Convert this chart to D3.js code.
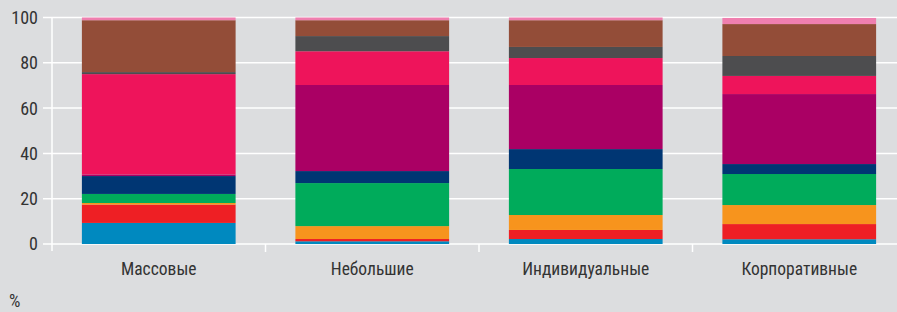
<!DOCTYPE html>
<html>
<head>
<meta charset="utf-8">
<script src="https://cdn.jsdelivr.net/npm/d3@7"></script>
<style>
  body { margin: 0; background: #dcdddf; }
  svg { display: block; }
  text { font-family: "Liberation Sans Narrow", "Roboto Condensed", "DejaVu Sans Condensed", sans-serif; fill: #333; }
</style>
</head>
<body>
<div id="chart"></div>
<script>
const width = 897;
const height = 312;

const categories = ["Массовые", "Небольшие", "Индивидуальные", "Корпоративные"];
const seriesKeys = ["s1", "s2", "s3", "s4", "s5", "s6", "s7", "s8", "s9", "s10"];
const seriesColors = ["#0089bf", "#ee1f24", "#f7941d", "#00ab5b", "#003673", "#aa0064", "#ee145b", "#4d4d4f", "#934d38", "#ef7faf"];
// values per category, bottom to top, %
const massovye = [9.3, 8.1, 0.7, 4.0, 7.9, 0.7, 44.3, 0.9, 22.9, 1.2];
const nebolshie = [1.2, 1.0, 5.7, 19.0, 5.3, 38.0, 14.9, 6.7, 7.0, 1.2];
const individualnye = [2.2, 4.0, 6.6, 20.3, 8.8, 28.3, 11.9, 4.9, 11.8, 1.2];
const korporativnye = [2.1, 6.7, 8.4, 13.7, 4.4, 30.9, 8.0, 8.8, 14.1, 2.7];
const yTicks = [0, 20, 40, 60, 80, 100];

const rows = [massovye, nebolshie, individualnye, korporativnye].map((vals, i) => {
    let r = { cat: categories[i] };
    seriesKeys.forEach((k, j) => r[k] = vals[j]);
    return r;
});

let svg = d3.select("#chart").append("svg")
    .attr("width", width)
    .attr("height", height);

let x = d3.scaleBand()
    .domain(categories)
    .range([52, 906])
    .paddingInner(0.28)
    .paddingOuter(0.14);
let y = d3.scaleLinear()
    .domain([0, 100])
    .range([244, 17.5]);

// gridlines
svg.append("g")
    .selectAll("line")
    .data(yTicks)
    .enter()
    .append("line")
    .attr("x1", 43)
    .attr("x2", width)
    .attr("y1", d => y(d))
    .attr("y2", d => y(d))
    .attr("stroke", "#fff")
    .attr("stroke-width", 1.5);

svg.append("line")
    .attr("x1", 52).attr("x2", 52)
    .attr("y1", y(100)).attr("y2", 251)
    .attr("stroke", "#fff")
    .attr("stroke-width", 1.5);

// tick labels
svg.append("g")
    .selectAll("text")
    .data(yTicks)
    .enter()
    .append("text")
    .attr("x", 38)
    .attr("y", d => y(d))
    .attr("dy", "0.36em")
    .attr("text-anchor", "end")
    .style("font-size", "18px")
    .text(d => d);

let stacked = d3.stack().keys(seriesKeys)(rows);

svg.append("g")
    .selectAll("g")
    .data(stacked)
    .enter()
    .append("g")
    .attr("fill", (d, i) => seriesColors[i])
    .selectAll("rect")
    .data(d => d)
    .enter()
    .append("rect")
    .attr("x", d => x(d.data.cat))
    .attr("width", x.bandwidth())
    .attr("y", d => y(d[1]))
    .attr("height", d => y(d[0]) - y(d[1]));

// category separators
let step = x.step();
svg.append("g")
    .selectAll("line")
    .data(categories.slice(1))
    .enter()
    .append("line")
    .attr("x1", d => x(d) - (step - x.bandwidth()) / 2)
    .attr("x2", d => x(d) - (step - x.bandwidth()) / 2)
    .attr("y1", 244)
    .attr("y2", 252)
    .attr("stroke", "#fff")
    .attr("stroke-width", 1.5);

svg.append("g")
    .selectAll("text")
    .data(categories)
    .enter()
    .append("text")
    .attr("x", d => x(d) + x.bandwidth() / 2)
    .attr("y", 275)
    .attr("text-anchor", "middle")
    .style("font-size", "17.5px")
    .text(d => d);

svg.append("text")
    .attr("x", 9)
    .attr("y", 307)
    .style("font-size", "18px")
    .text("%");
</script>
</body>
</html>
